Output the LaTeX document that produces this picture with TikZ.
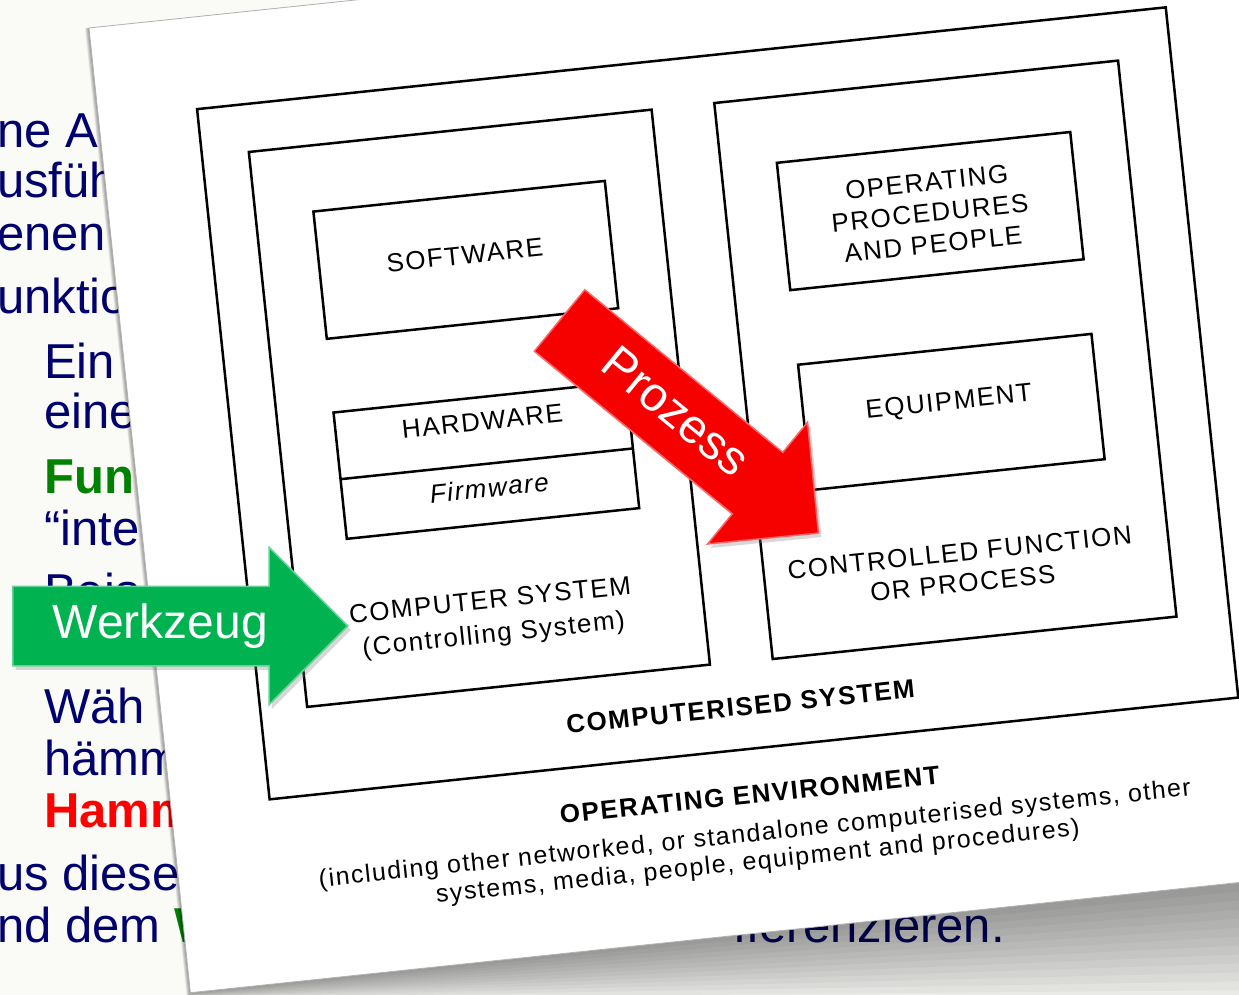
\documentclass[tikz,border=0pt]{standalone}
\usepackage{fontspec}
\setmainfont{Liberation Sans}
\newfontfamily\diagfont[LetterSpace=6]{Liberation Sans}
\usetikzlibrary{shapes.arrows,shadows}
\definecolor{folienblau}{RGB}{0,0,110}
\definecolor{foliengruen}{RGB}{0,130,0}
\definecolor{folienrot}{RGB}{255,0,0}
\definecolor{pfeilgruen}{RGB}{0,178,80}
\definecolor{pfeilrot}{RGB}{246,0,0}
\definecolor{hintergrund}{RGB}{250,250,247}
\begin{document}
\begin{tikzpicture}[x=1pt,y=-1pt,
    folie/.style={anchor=base west,inner sep=0pt,text=folienblau,font=\fontsize{49}{55}\selectfont},
    kasten/.style={draw=black,line width=2.5pt},
    etikett/.style={align=center,inner sep=0pt,font=\diagfont\fontsize{26}{31}\selectfont},
    pfeil/.style={single arrow,single arrow head extend=39pt,minimum height=335pt,
        text height=35pt,text depth=10pt,inner xsep=0pt,inner ysep=16.5pt,anchor=tail,
        text=white,drop shadow={opacity=0.3,shadow xshift=3pt,shadow yshift=-4pt}}]
    \useasboundingbox (0,0) rectangle (1239,995);
    \fill[hintergrund] (0,0) rectangle (1239,995);

    %Folientext
    \foreach \y/\zeile in {148/ne A,198/usfüh,250/enen,313/unktio,890/us diese}{
        \node[folie] (z\y) at (-3,\y) {\zeile};
    }
    \foreach \y/\zeile in {378/Ein,428/eine,545/“inte,608/Beis,723/Wäh,775/hämm}{
        \node[folie] (e\y) at (44,\y) {\zeile};
    }
    \node[folie,text=foliengruen,font=\fontsize{49}{55}\selectfont\bfseries] (fun) at (44,493) {Fun};
    \node[folie,text=folienrot,font=\fontsize{49}{55}\selectfont\bfseries] (ham) at (44,827) {Hamm};
    \node[folie] (dem) at (-3,942) {nd dem \textcolor{foliengruen}{\bfseries W}};
    \node[folie,anchor=base east] (diff) at (1005,942) {fferenzieren.};

    %Karte
    \begin{scope}[shift={(89,28)},rotate=6,every node/.style={transform shape}]
        \foreach \k in {1,...,14}{
            \fill[black,opacity=0.03] (-0.3*\k,0) -- (1300,0) -- (1300,970+11*\k) -- (-0.3*\k,970+0.5*\k) -- cycle;
        }
        \fill[white,draw=gray!60,line width=0.8pt] (0,0) rectangle (1300,970);

        %Kaesten
        \draw[kasten] (99,92) rectangle (1073,786);
        \draw[kasten] (146,140) rectangle (551,698);
        \draw[kasten] (204,206) rectangle (497,334);
        \draw[kasten] (203,408) rectangle (497,535) (203,475) -- (497,475);
        \draw[kasten] (614,140) rectangle (1020,699);
        \draw[kasten] (670,206) rectangle (965,334);
        \draw[kasten] (670,409) rectangle (965,535);

        %Beschriftung
        \node[etikett] (software) at (350,265) {SOFTWARE};
        \node[etikett] (hardware) at (350,432) {HARDWARE};
        \node[etikett,font=\diagfont\fontsize{26}{31}\selectfont\itshape] (firmware) at (350,499) {Firmware};
        \node[etikett] (rechner) at (339,630) {COMPUTER SYSTEM\\[3pt](Controlling System)};
        \node[etikett] (verfahren) at (817,272) {OPERATING\\PROCEDURES\\AND PEOPLE};
        \node[etikett] (geraet) at (816,463) {EQUIPMENT};
        \node[etikett] (funktion) at (811,628) {CONTROLLED FUNCTION\\OR PROCESS};
        \node[etikett,font=\diagfont\fontsize{26}{31}\selectfont\bfseries] (compsys) at (577,743) {COMPUTERISED SYSTEM};
        \node[etikett,font=\diagfont\fontsize{26}{31}\selectfont\bfseries] (umgebung) at (577,832) {OPERATING ENVIRONMENT};
        \node[etikett,font=\diagfont\fontsize{25}{28}\selectfont] (umgebungtext) at (578,886)
            {(including other networked, or standalone computerised systems, other\\systems, media, people, equipment and procedures)};
    \end{scope}

    %Pfeile
    \node[pfeil,fill=pfeilgruen,draw=pfeilgruen!60!white,line width=1.5pt,font=\fontsize{48}{48}\selectfont] (werkzeug) at (12,626) {Werkzeug};
    \node[pfeil,fill=pfeilrot,draw=pfeilrot!60!white,line width=1.5pt,rotate=-39.4,font=\fontsize{48}{48}\selectfont] (prozess) at (559,320) {Prozess};
\end{tikzpicture}
\end{document}
